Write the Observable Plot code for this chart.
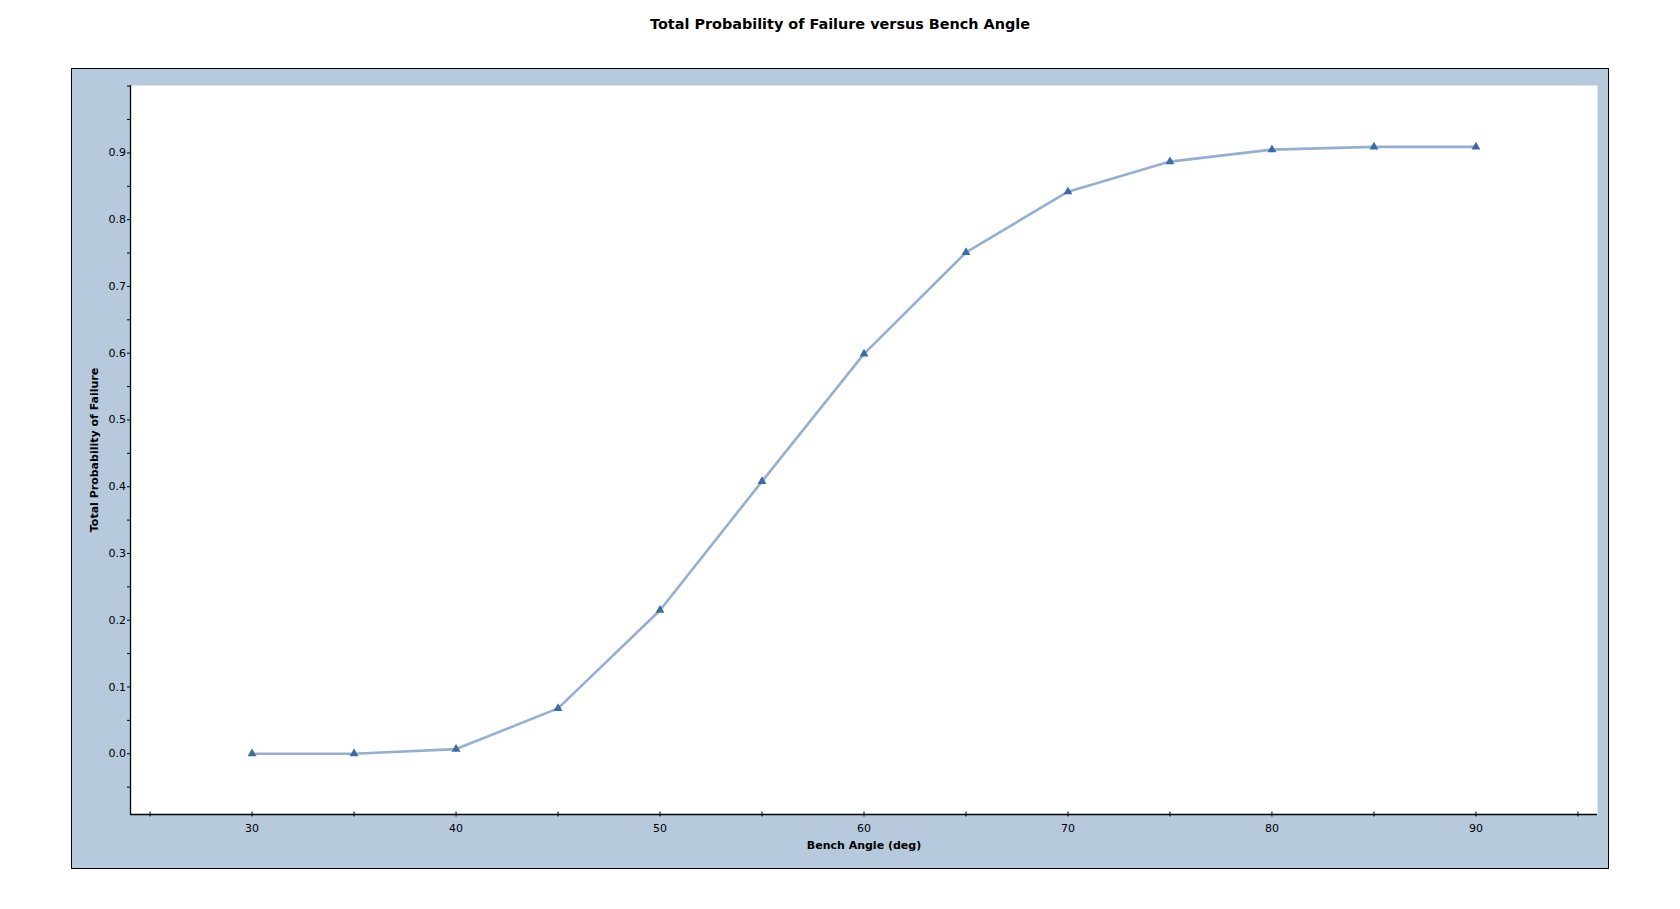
<!DOCTYPE html>
<html>
<head>
<meta charset="utf-8">
<script src="https://cdn.jsdelivr.net/npm/d3@7"></script>
<script src="https://cdn.jsdelivr.net/npm/@observablehq/plot@0.6"></script>
<style>
  html, body { margin: 0; padding: 0; background: #ffffff; width: 1680px; height: 909px; overflow: hidden; }
  body { position: relative; font-family: "DejaVu Sans", Verdana, sans-serif; }
  #title { position: absolute; left: 0; top: 16px; width: 1680px; text-align: center; font-weight: bold; font-size: 14.4px; color: #000; }
  #frame { position: absolute; left: 71px; top: 68px; width: 1536px; height: 799px; background: #b7c9dd; border: 1px solid #000; }
  #frame svg { display: block; }
</style>
</head>
<body>
<div id="title">Total Probability of Failure versus Bench Angle</div>
<div id="frame"></div>
<script>
// Data
const benchAngle = [30, 35, 40, 45, 50, 55, 60, 65, 70, 75, 80, 85, 90];
const probFailure = [0.0, 0.0, 0.007, 0.068, 0.215, 0.408, 0.599, 0.751, 0.842, 0.887, 0.905, 0.909, 0.909];

// Axis settings
const xDomain = [24.04, 95.96];
const yDomain = [-0.091, 1.001];
const xTicks = [25, 30, 35, 40, 45, 50, 55, 60, 65, 70, 75, 80, 85, 90, 95];
const xTickLabels = [30, 40, 50, 60, 70, 80, 90];
const yTicks = [-0.05, 0, 0.05, 0.1, 0.15, 0.2, 0.25, 0.3, 0.35, 0.4, 0.45, 0.5, 0.55, 0.6, 0.65, 0.7, 0.75, 0.8, 0.85, 0.9, 0.95, 1.0];
const yTickLabels = [0, 0.1, 0.2, 0.3, 0.4, 0.5, 0.6, 0.7, 0.8, 0.9];

const xLabel = "Bench Angle (deg)";
const yLabel = "Total Probability of Failure";

const data = benchAngle.map((a, i) => ({angle: a, p: probFailure[i]}));

const near = (arr, v) => arr.some(t => Math.abs(t - v) < 1e-9);

const chart = Plot.plot({
  width: 1536,
  height: 799,
  marginLeft: 58,
  marginTop: 16,
  marginRight: 11,
  marginBottom: 54,
  style: { background: "transparent", fontFamily: "DejaVu Sans, Verdana, sans-serif", fontSize: "11px", color: "#000" },
  x: { domain: xDomain, label: null },
  y: { domain: yDomain, label: null },
  marks: [
    Plot.frame({ fill: "#ffffff", stroke: null }),
    Plot.ruleX([xDomain[0]], { stroke: "#000", strokeWidth: 1.3 }),
    Plot.ruleY([yDomain[0]], { stroke: "#000", strokeWidth: 1.3 }),
    Plot.axisX({
      ticks: xTicks,
      tickSize: 5,
      dy: -2.5,
      tickPadding: 7,
      tickFormat: d => near(xTickLabels, d) ? String(d) : "",
      stroke: "#000",
      fill: "#000",
      label: xLabel,
      labelAnchor: "center",
      labelArrow: "none",
      labelOffset: 34.5,
      fontSize: 11
    }),
    Plot.axisY({
      ticks: yTicks,
      tickSize: 4,
      dx: 1,
      tickPadding: 1.5,
      tickFormat: d => near(yTickLabels, d) ? d.toFixed(1) : "",
      stroke: "#000",
      fill: "#000",
      label: yLabel,
      labelAnchor: "center",
      labelArrow: "none",
      labelOffset: 40,
      fontSize: 11
    }),
    Plot.line(data, { x: "angle", y: "p", stroke: "#94afd0", strokeWidth: 2.6 }),
    Plot.dot(data, { x: "angle", y: "p", symbol: "triangle", r: 3.3, fill: "#3e6aa3", stroke: null })
  ]
});

// bold axis titles only
chart.querySelectorAll("g[aria-label='x-axis label'] text, g[aria-label='y-axis label'] text").forEach(t => {
  t.setAttribute("font-weight", "bold");
});
document.getElementById("frame").appendChild(chart);
</script>
</body>
</html>
